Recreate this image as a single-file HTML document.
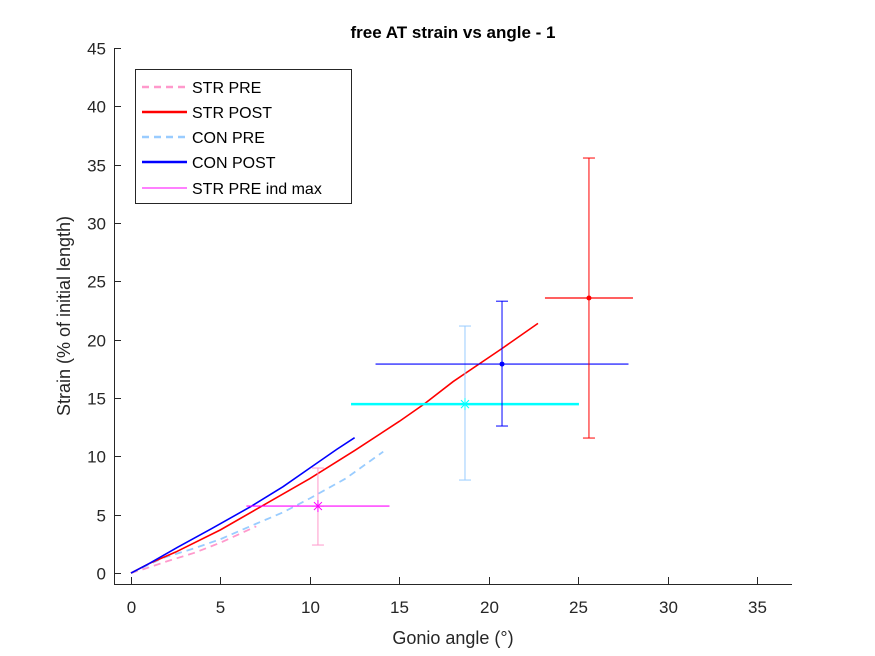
<!DOCTYPE html>
<html><head><meta charset="utf-8"><style>
body{margin:0;background:#fff;}
svg{display:block;font-family:"Liberation Sans",Arial,sans-serif;}
</style></head><body>
<svg id="chart" width="875" height="656" viewBox="0 0 875 656">
<rect width="875" height="656" fill="#fff"/>
<text x="453" y="38" text-anchor="middle" font-size="17" font-weight="bold" fill="#000">free AT strain vs angle - 1</text>
<g id="axes"></g>
<g id="series"></g>
<text x="453" y="644" text-anchor="middle" font-size="18" fill="#262626">Gonio angle (°)</text>
<text transform="translate(70,316) rotate(-90)" text-anchor="middle" font-size="18" fill="#262626">Strain (% of initial length)</text>
<g>
<rect x="135.5" y="69.5" width="216" height="134" fill="#fff" stroke="#262626" stroke-width="1"/>
<line x1="142" y1="87" x2="187" y2="87" stroke="#ff99cc" stroke-width="2.5" stroke-dasharray="7,5"/>
<text x="192" y="93" font-size="16" fill="#000">STR PRE</text>
<line x1="142" y1="112" x2="187" y2="112" stroke="#ff0000" stroke-width="2.5"/>
<text x="192" y="118" font-size="16" fill="#000">STR POST</text>
<line x1="142" y1="137" x2="187" y2="137" stroke="#99ccff" stroke-width="2.5" stroke-dasharray="7,5"/>
<text x="192" y="143" font-size="16" fill="#000">CON PRE</text>
<line x1="142" y1="162" x2="187" y2="162" stroke="#0000ff" stroke-width="2.5"/>
<text x="192" y="168" font-size="16" fill="#000">CON POST</text>
<line x1="142" y1="188" x2="187" y2="188" stroke="#ff00ff" stroke-width="1"/>
<text x="192" y="194" font-size="16" fill="#000">STR PRE ind max</text>
</g>
</svg>
<script>
const xTicks=[0,5,10,15,20,25,30,35];
const yTicks=[0,5,10,15,20,25,30,35,40,45];
const strPreX=[0,0.9,2,3.5,5,6,7];
const strPreY=[0,0.43,1.0,1.71,2.6,3.3,4.0];
const strPostX=[0,1,2.5,5,7.5,10,12.5,15,16.4,18,20.7,22.75];
const strPostY=[0,0.8,1.8,3.7,5.9,8.1,10.5,13.0,14.5,16.4,19.2,21.4];
const conPreX=[0,1.8,3.5,5,6.8,8.5,10,12,14.1];
const conPreY=[0,1.3,2.1,2.9,4.1,5.2,6.4,8.1,10.4];
const conPostX=[0,1,2.6,4.5,6.7,8.5,10,11.5,12.5];
const conPostY=[0,0.8,2.2,3.8,5.7,7.4,9.0,10.6,11.6];
const ebStrPostX=[25.6], ebStrPostY=[23.57], ebStrPostXErr=[2.46], ebStrPostYLo=[11.57], ebStrPostYHi=[35.57];
const ebConPostX=[20.74], ebConPostY=[17.91], ebConPostXErr=[7.07], ebConPostYLo=[12.6], ebConPostYHi=[23.3];
const ebConPreX=[18.67], ebConPreY=[14.48], ebConPreXErr=[6.37], ebConPreYLo=[7.97], ebConPreYHi=[21.17];
const ebStrPreX=[10.45], ebStrPreY=[5.74], ebStrPreXErr=[4.0], ebStrPreYLo=[2.4], ebStrPreYHi=[9.0];

const NS="http://www.w3.org/2000/svg";
const X0=114,X1=792,Y0=584,Y1=48,xmin=-0.95,xmax=36.95,ymin=-0.94,ymax=45;
const sx=v=>X0+(v-xmin)/(xmax-xmin)*(X1-X0);
const sy=v=>Y0-(v-ymin)/(ymax-ymin)*(Y0-Y1);
function mk(tag,attrs,parent){const e=document.createElementNS(NS,tag);for(const k in attrs)e.setAttribute(k,attrs[k]);parent.appendChild(e);return e;}
const ax=document.getElementById('axes'), se=document.getElementById('series');
let l=mk('line',{x1:X0,y1:Y0+.5,x2:X1,y2:Y0+.5,stroke:'#262626'},ax);


l=mk('line',{x1:X0+.5,y1:Y0,x2:X0+.5,y2:Y1,stroke:'#262626'},ax);


xTicks.forEach(t=>{const x=Math.round(sx(t))+.5;
 const tk=mk('line',{x1:x,y1:Y0,x2:x,y2:Y0-7,stroke:'#262626'},ax);
 
 
 const tx=mk('text',{x:x,y:Y0+29,'text-anchor':'middle','font-size':17,fill:'#262626'},ax);tx.textContent=t;
 
 });
yTicks.forEach(t=>{const y=Math.round(sy(t))+.5;
 const tk=mk('line',{x1:X0,y1:y,x2:X0+7,y2:y,stroke:'#262626'},ax);
 
 
 const tx=mk('text',{x:X0-8,y:y+6,'text-anchor':'end','font-size':17,fill:'#262626'},ax);tx.textContent=t;
 
 });
function line(xs,ys,color,w,dash,name){const pts=xs.map((v,i)=>sx(v)+','+sy(ys[i])).join(' ');
 const p=mk('polyline',{points:pts,fill:'none',stroke:color,'stroke-width':w},se);if(dash)p.setAttribute('stroke-dasharray',dash);
 
 }
line(strPreX,strPreY,'#ff99cc',1.8,'7,5','str-pre-line');
line(conPreX,conPreY,'#99ccff',1.8,'7,5','con-pre-line');
line(strPostX,strPostY,'#ff0000',1.6,null,'str-post-line');
line(conPostX,conPostY,'#0000ff',1.6,null,'con-post-line');
function eb(xs,ys,xe,lo,hi,hc,hw,vc,marker,name){
 const g=mk('g',{},se);
 
 
 xs.forEach((x,i)=>{const cx=sx(x),cy=sy(ys[i]);
  mk('line',{x1:sx(x-xe[i]),y1:cy,x2:sx(x+xe[i]),y2:cy,stroke:hc,'stroke-width':hw},g);
  const t=sy(hi[i]),b=sy(lo[i]);
  mk('line',{x1:cx,y1:t,x2:cx,y2:b,stroke:vc,'stroke-width':1},g);
  mk('line',{x1:cx-6,y1:t,x2:cx+6,y2:t,stroke:vc},g);
  mk('line',{x1:cx-6,y1:b,x2:cx+6,y2:b,stroke:vc},g);
  if(marker==='dot')mk('circle',{cx:cx,cy:cy,r:2.5,fill:hc},g);
  else{[[-6,0,6,0],[0,-6,0,6],[-4,-4,4,4],[-4,4,4,-4]].forEach(d=>mk('line',{x1:cx+d[0],y1:cy+d[1],x2:cx+d[2],y2:cy+d[3],stroke:hc,'stroke-width':1},g));}
 });}
eb(ebStrPreX,ebStrPreY,ebStrPreXErr,ebStrPreYLo,ebStrPreYHi,'#ff00ff',1.2,'#ff99cc','star','str-pre-errorbar');
eb(ebConPreX,ebConPreY,ebConPreXErr,ebConPreYLo,ebConPreYHi,'#00ffff',2.5,'#99ccff','star','con-pre-errorbar');
eb(ebConPostX,ebConPostY,ebConPostXErr,ebConPostYLo,ebConPostYHi,'#0000ff',1.2,'#0000ff','dot','con-post-errorbar');
eb(ebStrPostX,ebStrPostY,ebStrPostXErr,ebStrPostYLo,ebStrPostYHi,'#ff0000',1.2,'#ff0000','dot','str-post-errorbar');
</script>
</body></html>
